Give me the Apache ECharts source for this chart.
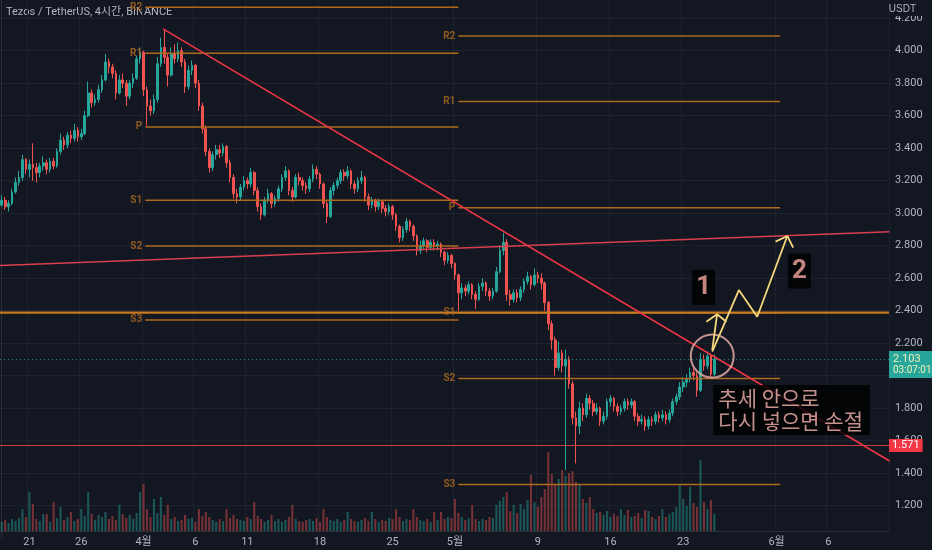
<!DOCTYPE html>
<html><head><meta charset="utf-8">
<script src="https://cdn.jsdelivr.net/npm/echarts@6/dist/echarts.min.js"></script>
<style>html,body{margin:0;padding:0;background:#131722;}#c{width:932px;height:550px;}</style>
</head><body><div id="c"></div>
<script>
// ---- data ----
const startTimeUTC = Date.UTC(2022, 2, 18, 8); // first 8h slot
const slotCount = 257;
const tickSlots = [8, 23, 41, 56, 71, 92, 113, 131, 155, 176, 197, 224, 239];
const tickLabels = ['21', '26', '4월', '6', '11', '18', '25', '5월', '9', '16', '23', '6월', '6'];
const firstOpen = 3.05;
const closes = [
3.08,3.04,3.06,3.13,3.19,3.22,3.33,3.27,3.30,3.28,
3.25,3.29,3.31,3.27,3.32,3.29,3.38,3.45,3.42,3.48,
3.46,3.51,3.47,3.49,3.60,3.74,3.68,3.70,3.76,3.82,
3.93,3.90,3.86,3.74,3.82,3.80,3.72,3.80,3.83,3.95,
3.99,3.76,3.66,3.63,3.70,3.92,4.02,3.96,3.85,3.98,
3.95,4.00,3.93,3.78,3.88,3.91,3.80,3.66,3.52,3.38,
3.28,3.36,3.39,3.37,3.41,3.31,3.22,3.12,3.10,3.16,
3.20,3.18,3.25,3.14,3.04,2.99,3.08,3.12,3.06,3.09,
3.15,3.22,3.26,3.14,3.10,3.22,3.20,3.17,3.15,3.21,
3.27,3.24,3.18,3.06,2.98,3.14,3.17,3.20,3.25,3.23,
3.26,3.18,3.15,3.20,3.22,3.10,3.05,3.08,3.04,3.07,
3.03,3.01,3.04,2.99,2.92,2.85,2.90,2.95,2.92,2.86,
2.77,2.80,2.83,2.79,2.82,2.80,2.81,2.76,2.71,2.74,
2.69,2.62,2.51,2.54,2.52,2.56,2.50,2.47,2.55,2.57,
2.52,2.49,2.52,2.64,2.77,2.82,2.50,2.47,2.51,2.48,
2.53,2.58,2.61,2.56,2.62,2.60,2.57,2.45,2.32,2.22,
2.05,2.14,2.06,2.10,1.95,1.74,1.69,1.80,1.76,1.86,
1.83,1.78,1.80,1.72,1.75,1.84,1.86,1.81,1.78,1.80,
1.84,1.82,1.84,1.75,1.72,1.73,1.69,1.73,1.72,1.76,
1.74,1.76,1.73,1.77,1.84,1.87,1.93,1.96,1.98,2.02,
2.00,1.91,2.10,2.06,2.12,2.01,2.103];
const highs = [
3.11,3.10,3.08,3.15,3.22,3.26,3.36,3.34,3.33,3.43,
3.31,3.31,3.35,3.33,3.34,3.34,3.40,3.49,3.47,3.50,
3.51,3.55,3.53,3.52,3.63,3.81,3.76,3.73,3.79,3.85,
3.98,3.95,3.92,3.88,3.85,3.86,3.82,3.82,3.86,3.97,
4.02,4.00,3.78,3.70,3.73,3.96,4.08,4.13,3.98,4.02,
4.04,4.05,4.02,3.95,3.91,3.94,3.92,3.82,3.68,3.54,
3.40,3.38,3.42,3.42,3.43,3.42,3.33,3.24,3.15,3.18,
3.23,3.22,3.28,3.26,3.16,3.06,3.10,3.15,3.13,3.11,
3.17,3.24,3.29,3.27,3.16,3.24,3.25,3.22,3.19,3.23,
3.30,3.29,3.25,3.19,3.08,3.16,3.19,3.22,3.27,3.27,
3.29,3.27,3.20,3.22,3.26,3.23,3.12,3.10,3.09,3.09,
3.08,3.05,3.06,3.05,3.00,2.93,2.92,2.97,2.96,2.93,
2.87,2.83,2.85,2.84,2.84,2.84,2.83,2.82,2.77,2.76,
2.75,2.70,2.63,2.57,2.56,2.58,2.57,2.52,2.57,2.60,
2.58,2.54,2.54,2.67,2.80,2.88,2.84,2.53,2.53,2.53,
2.55,2.60,2.64,2.62,2.66,2.64,2.63,2.58,2.46,2.34,
2.24,2.21,2.16,2.16,2.12,1.97,1.78,1.84,1.83,1.89,
1.88,1.85,1.83,1.81,1.78,1.86,1.88,1.87,1.83,1.82,
1.86,1.86,1.86,1.85,1.77,1.76,1.75,1.75,1.75,1.78,
1.78,1.79,1.78,1.79,1.86,1.89,1.96,1.99,2.01,2.05,
2.05,2.02,2.14,2.13,2.15,2.13,2.13];
const lows = [
3.04,3.02,3.01,3.05,3.12,3.17,3.20,3.24,3.22,3.20,
3.19,3.22,3.26,3.24,3.25,3.27,3.28,3.36,3.39,3.40,
3.43,3.44,3.44,3.45,3.48,3.59,3.65,3.66,3.68,3.74,
3.81,3.86,3.83,3.70,3.73,3.77,3.66,3.70,3.77,3.82,
3.92,3.72,3.54,3.60,3.61,3.68,3.90,3.92,3.78,3.84,
3.92,3.93,3.90,3.74,3.76,3.85,3.77,3.63,3.49,3.35,
3.25,3.26,3.33,3.34,3.35,3.28,3.19,3.09,3.06,3.08,
3.14,3.15,3.16,3.11,3.01,2.96,2.98,3.06,3.03,3.04,
3.07,3.13,3.20,3.11,3.07,3.09,3.17,3.14,3.12,3.13,
3.19,3.21,3.15,3.03,2.94,2.97,3.11,3.15,3.18,3.20,
3.21,3.15,3.12,3.13,3.18,3.07,3.02,3.03,3.01,3.02,
3.00,2.98,2.99,2.96,2.89,2.82,2.83,2.88,2.89,2.83,
2.74,2.75,2.78,2.76,2.77,2.77,2.77,2.73,2.68,2.69,
2.66,2.59,2.40,2.47,2.49,2.50,2.47,2.41,2.46,2.52,
2.49,2.46,2.47,2.51,2.63,2.74,2.46,2.43,2.45,2.45,
2.46,2.51,2.56,2.53,2.55,2.57,2.53,2.40,2.28,2.16,
2.00,2.03,2.02,1.42,1.92,1.70,1.46,1.64,1.72,1.74,
1.79,1.75,1.76,1.69,1.70,1.73,1.81,1.78,1.75,1.76,
1.78,1.79,1.80,1.72,1.69,1.70,1.66,1.67,1.69,1.70,
1.71,1.72,1.70,1.71,1.75,1.82,1.85,1.90,1.93,1.96,
1.97,1.87,1.90,2.03,2.04,1.99,2.00];
const volumes = [
9,11,8,12,10,13,22,14,39,27,
12,10,17,17,9,29,13,24,11,14,
19,10,12,22,15,39,17,11,16,14,
19,12,15,11,26,17,13,16,12,18,
39,47,22,14,32,18,34,16,26,12,
14,10,11,16,12,13,9,22,15,19,
14,11,9,12,10,22,13,16,12,11,
10,14,12,29,15,12,9,11,16,10,
12,9,11,14,26,12,10,9,11,12,
10,13,9,22,14,11,10,12,9,11,
19,12,10,9,11,13,10,19,12,9,
11,10,13,12,22,14,10,12,11,22,
14,11,10,12,9,19,11,19,12,14,
13,32,18,14,11,13,26,12,10,12,
11,14,13,26,30,34,39,20,26,18,
27,22,31,56,29,24,34,42,79,57,
47,52,61,55,58,60,49,47,32,28,
34,22,18,19,16,20,14,17,15,22,
16,21,14,15,18,13,21,20,14,12,
15,22,14,17,19,24,47,32,25,44,
28,24,71,29,22,31,17];
const pivotNames = ['R2', 'R1', 'P', 'S1', 'S2', 'S3'];
const aprPivots = [4.267, 3.984, 3.531, 3.079, 2.798, 2.343];
const mayPivots = [4.090, 3.687, 3.034, 2.387, 1.983, 1.330];
const aprRange = [41.5, 132];
const mayRange = [132, 225];
const downTrend = [[46.65, 4.134], [256.65, 1.475]];
const upTrend = [[-0.5, 2.678], [256.65, 2.886]];
const hLevel = 2.388;
const stopLevel = 1.571;
const lastPrice = 2.103;
const countdown = '03:07:01';
const arrowPath2 = [[205.4, 2.148], [213.1, 2.527], [218.4, 2.363], [227.1, 2.860]];
const arrowHead2 = [[223.7, 2.825], [227.1, 2.860], [228.8, 2.788]];
const arrowPath1 = [[205.4, 2.158], [206.8, 2.378]];
const arrowHead1 = [[203.7, 2.332], [206.8, 2.378], [209.5, 2.332]];
const circlePoint = [205.4, 2.121];
const note1 = [202.9, 2.543];
const note2 = [230.6, 2.644];
const note3 = [205.7, 1.789];
const note1Text = '1', note2Text = '2', note3Text = '추세 안으로\n다시 넣으면 손절';
const titleText = 'Tezos / TetherUS, 4시간, BINANCE';

// ---- build ----
const cats = [];
for (let i = 0; i < slotCount; i++) {
  const d = new Date(startTimeUTC + i * 8 * 3600 * 1000);
  cats.push((d.getUTCMonth() + 1) + '/' + d.getUTCDate() + ' ' + d.getUTCHours() + ':00');
}
const candles = [], vols = [];
for (let i = 0; i < closes.length; i++) {
  const o = i === 0 ? firstOpen : closes[i - 1];
  const c = closes[i];
  candles.push([o, c, lows[i], highs[i]]);
  vols.push({ value: volumes[i], itemStyle: { color: c >= o ? 'rgba(38,166,154,0.45)' : 'rgba(239,83,80,0.45)' } });
}
const isTick = (i) => tickSlots.indexOf(i) >= 0;
const ORANGE = '#b06a1e';
const drawBase = { xAxisIndex: 3, yAxisIndex: 0, silent: true, animation: false };
const series = [];
series.push({
  type: 'candlestick', xAxisIndex: 0, yAxisIndex: 0, data: candles, barWidth: '62%', z: 2,
  itemStyle: { color: '#26a69a', color0: '#ef5350', borderColor: '#26a69a', borderColor0: '#ef5350', borderWidth: 1 },
  markLine: {
    silent: true, symbol: ['none', 'none'], animation: false,
    data: [
      { yAxis: stopLevel, lineStyle: { color: 'rgba(230,70,80,0.85)', width: 1, type: 'solid' },
        label: { show: true, position: 'end', distance: 0, formatter: stopLevel.toFixed(3), backgroundColor: '#f23645', color: '#ffffff', padding: [1, 3, 1, 3], fontSize: 11 } },
      { yAxis: lastPrice, lineStyle: { color: 'rgba(38,166,154,0.8)', width: 1, type: [1, 3] },
        label: { show: true, position: 'end', distance: 0, offset: [0, 5], formatter: '{a|' + lastPrice.toFixed(3) + '}\n{b|' + countdown + '}', backgroundColor: '#26a69a', padding: [2, 3, 2, 4],
          rich: { a: { fontSize: 11, color: '#f3f0b8', lineHeight: 12 }, b: { fontSize: 10, color: '#f3f0b8', lineHeight: 11 } } } }
    ]
  }
});
series.push({ type: 'bar', xAxisIndex: 1, yAxisIndex: 1, data: vols, barWidth: '60%', silent: true, animation: false });
function seg(data, color, width, z, type) {
  series.push(Object.assign({}, drawBase, { type: 'line', data: data, symbol: 'none', z: z,
    lineStyle: { color: color, width: width, type: type || 'solid' } }));
}
pivotNames.forEach((n, k) => {
  seg([[aprRange[0], aprPivots[k]], [aprRange[1], aprPivots[k]]], ORANGE, 1.5, 3);
  seg([[mayRange[0], mayPivots[k]], [mayRange[1], mayPivots[k]]], ORANGE, 1.5, 3);
});
series.push(Object.assign({}, drawBase, {
  type: 'scatter', symbolSize: 0.1, itemStyle: { color: 'transparent' }, z: 4,
  label: { show: true, position: 'left', distance: 3, color: ORANGE, fontSize: 10, fontWeight: 'bold', formatter: (p) => p.data.name },
  data: pivotNames.map((n, k) => ({ name: n, value: [aprRange[0], aprPivots[k]] }))
    .concat(pivotNames.map((n, k) => ({ name: n, value: [mayRange[0], mayPivots[k]] })))
}));
seg([[-0.5, hLevel], [slotCount - 0.5, hLevel]], '#c77a20', 2.2, 4);
seg(downTrend, '#f23645', 1.5, 5);
seg(upTrend, '#d9404e', 1.4, 5);
const YEL = '#f7d87c';
seg(arrowPath2, YEL, 1.8, 7);
seg(arrowHead2, YEL, 1.8, 7);
seg(arrowPath1, YEL, 1.8, 7);
seg(arrowHead1, YEL, 1.8, 7);
series.push(Object.assign({}, drawBase, {
  type: 'scatter', data: [circlePoint], symbol: 'circle', symbolSize: 43, z: 6,
  itemStyle: { color: 'rgba(0,0,0,0)', borderColor: '#f1b3ae', borderWidth: 2 }
}));
const noteFont = '"Noto Sans CJK KR", "Noto Sans", sans-serif';
series.push(Object.assign({}, drawBase, {
  type: 'scatter', symbolSize: 0.1, itemStyle: { color: 'transparent' }, z: 8,
  data: [
    { value: note1, label: { formatter: note1Text } },
    { value: note2, label: { formatter: note2Text } }
  ],
  label: { show: true, position: 'inside', color: '#f6a8a0', fontSize: 26, fontWeight: 'bold', lineHeight: 31,
    backgroundColor: '#000000', padding: [2, 4, 2, 4], fontFamily: 'Roboto, sans-serif' }
}));
series.push(Object.assign({}, drawBase, {
  type: 'scatter', symbolSize: 0.1, itemStyle: { color: 'transparent' }, z: 8,
  data: [{ value: note3 }],
  label: { show: true, position: 'right', distance: 0, formatter: note3Text, color: '#f6b3ac', fontSize: 21, lineHeight: 23,
    align: 'left', backgroundColor: '#000000', padding: [2, 7, 2, 5], fontFamily: noteFont }
}));

const chart = echarts.init(document.getElementById('c'), null, { renderer: 'canvas' });
chart.setOption({
  backgroundColor: '#131722',
  animation: false,
  textStyle: { fontFamily: 'Roboto, "Noto Sans CJK KR", sans-serif' },
  grid: [
    { left: 0, right: 43, top: 0, bottom: 11.8 },
    { left: 0, right: 43, top: 441, bottom: 19 },
    { left: 0, right: 43, top: 0, bottom: 19 }
  ],
  xAxis: [
    { gridIndex: 0, type: 'category', data: cats, show: false },
    { gridIndex: 1, type: 'category', data: cats, show: false },
    { gridIndex: 2, type: 'category', data: cats,
      axisLine: { show: true, lineStyle: { color: '#2a2e39' } }, axisTick: { show: false },
      axisLabel: { interval: (i) => isTick(i), formatter: (v, i) => tickLabels[tickSlots.indexOf(i)], color: '#b2b5be', fontSize: 11, margin: 6 },
      splitLine: { show: true, interval: (i) => isTick(i), lineStyle: { color: '#1e222d', width: 1 } } },
    { gridIndex: 0, type: 'value', min: -0.5, max: slotCount - 0.5, show: false }
  ],
  yAxis: [
    { gridIndex: 0, type: 'value', position: 'right', min: 1.0, max: 4.312, interval: 0.2,
      axisLine: { show: true, lineStyle: { color: '#2a2e39' } }, axisTick: { show: false },
      axisLabel: { color: '#b2b5be', fontSize: 11, margin: 6, showMinLabel: false, showMaxLabel: false, formatter: (v) => v.toFixed(3) },
      splitLine: { show: true, showMinLine: false, showMaxLine: false, lineStyle: { color: '#1e222d' } } },
    { gridIndex: 1, type: 'value', min: 0, max: 90, show: false },
    { gridIndex: 2, type: 'value', show: false }
  ],
  graphic: [
    { type: 'text', left: 6, top: 7, style: { text: titleText, fill: '#b2b5be', fontSize: 11, fontFamily: 'Roboto, "Noto Sans CJK KR", sans-serif' } },
    { type: 'rect', right: 0, top: 0, shape: { width: 42, height: 16 }, style: { fill: '#131722' }, z: 100 },
    { type: 'text', right: 16, top: 4, z: 101, style: { text: 'USDT', fill: '#b2b5be', fontSize: 10 } }
  ],
  series: series
});
</script></body></html>
